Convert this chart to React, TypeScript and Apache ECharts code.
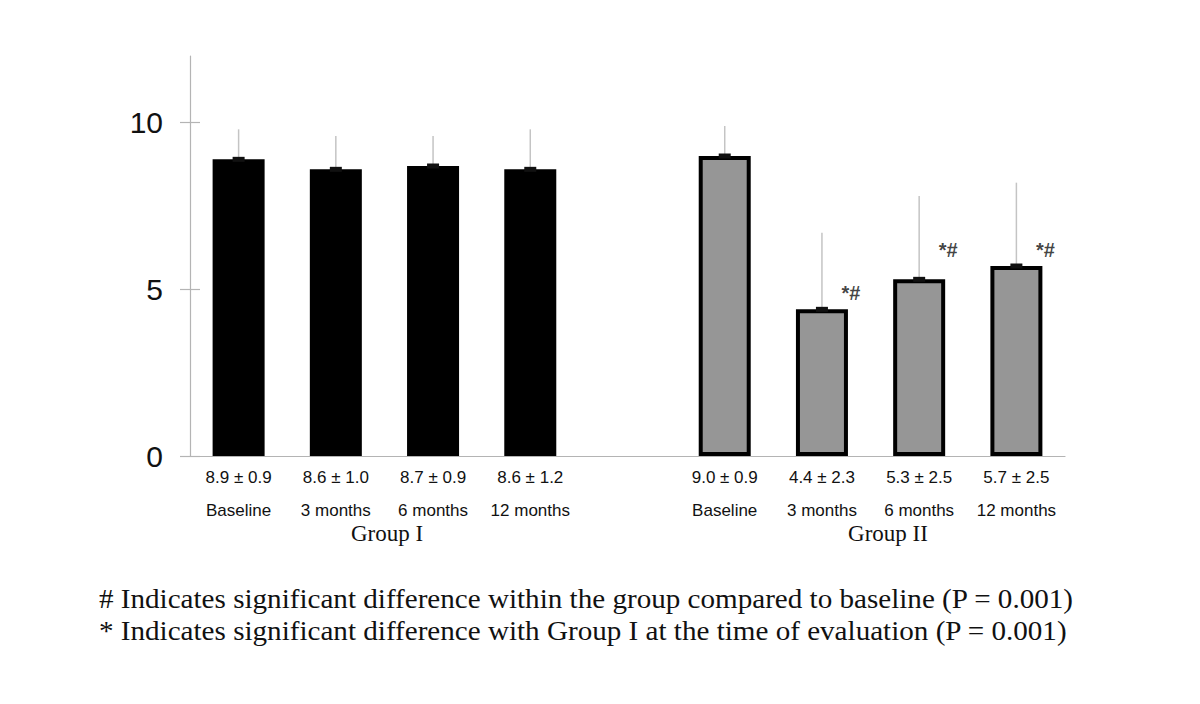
import React, { useEffect, useRef } from "react";
import * as echarts from "echarts";

const categories = ["Baseline", "3 months", "6 months", "12 months", "", "Baseline", "3 months", "6 months", "12 months"];
const groupIMeans = [8.9, 8.6, 8.7, 8.6];
const groupISD = [0.9, 1.0, 0.9, 1.2];
const groupIIMeans = [9.0, 4.4, 5.3, 5.7];
const groupIISD = [0.9, 2.3, 2.5, 2.5];
const statLabels = ["8.9 ± 0.9", "8.6 ± 1.0", "8.7 ± 0.9", "8.6 ± 1.2", "", "9.0 ± 0.9", "4.4 ± 2.3", "5.3 ± 2.5", "5.7 ± 2.5"];
// significance marks: [category index, y value where the mark sits]
const marks: [number, number][] = [[6, 4.88], [7, 6.17], [8, 6.17]];
const groupNames = ["Group I", "Group II"];
const footnotes = [
  "# Indicates significant difference within the group compared to baseline (P = 0.001)",
  "* Indicates significant difference with Group I at the time of evaluation (P = 0.001)",
];
const yTicks = [0, 5, 10];

export default function App() {
  const ref = useRef<HTMLDivElement>(null);
  useEffect(() => {
    if (!ref.current) return;
    const chart = echarts.init(ref.current, undefined, { renderer: "svg" });
    const g1Data = categories.map((_, i) => (i < 4 ? groupIMeans[i] : "-"));
    const g2Data = categories.map((_, i) => (i > 4 ? groupIIMeans[i - 5] : "-"));
    const errData: number[][] = [];
    groupIMeans.forEach((m, i) => errData.push([i, m, m + groupISD[i]]));
    groupIIMeans.forEach((m, i) => errData.push([i + 5, m, m + groupIISD[i]]));
    const sans = "'Liberation Sans', Arial, sans-serif";
    const serif = "'Liberation Serif', 'Times New Roman', serif";
    chart.setOption({
      animation: false,
      backgroundColor: "#ffffff",
      grid: { left: 190, right: 135, top: 56, bottom: 248 },
      xAxis: {
        type: "category",
        data: categories,
        axisLine: { lineStyle: { color: "#b4b4b4", width: 1.2 } },
        axisTick: { show: false },
        axisLabel: {
          interval: 0,
          margin: 5,
          formatter: (v: string, i: number) => (v ? `{v|${statLabels[i]}}\n{c|${v}}` : ""),
          rich: {
            v: { fontSize: 17, lineHeight: 33, fontFamily: sans, color: "#111" },
            c: { fontSize: 17, lineHeight: 33, fontFamily: sans, color: "#111" },
          },
        },
      },
      yAxis: [
        {
          type: "value",
          min: 0,
          max: 12,
          interval: 5,
          splitLine: { show: false },
          axisLine: { show: true, lineStyle: { color: "#b4b4b4", width: 1.2 } },
          axisTick: { show: true, length: 10, customValues: yTicks, lineStyle: { color: "#b4b4b4", width: 1.2 } },
          axisLabel: { customValues: yTicks, fontSize: 30, fontFamily: sans, color: "#111", margin: 27 },
        },
        {
          type: "value",
          position: "left",
          min: 0,
          max: 12,
          interval: 5,
          splitLine: { show: false },
          axisLine: { show: false },
          axisTick: { show: true, inside: true, length: 10, customValues: yTicks, lineStyle: { color: "#b4b4b4", width: 1.2 } },
          axisLabel: { show: false },
        },
      ],
      series: [
        {
          type: "bar",
          data: g1Data,
          barWidth: 52,
          barGap: "-100%",
          itemStyle: { color: "#000", borderColor: "#000", borderWidth: 4 },
        },
        {
          type: "bar",
          data: g2Data,
          barWidth: 52,
          itemStyle: { color: "#969696", borderColor: "#000", borderWidth: 4 },
        },
        {
          type: "custom",
          data: errData,
          encode: { x: 0, y: [1, 2] },
          z: 5,
          renderItem: (params: any, api: any) => {
            const x = api.value(0);
            const p0 = api.coord([x, api.value(1)]);
            const p1 = api.coord([x, api.value(2)]);
            return {
              type: "group",
              children: [
                { type: "line", shape: { x1: p0[0], y1: p0[1], x2: p1[0], y2: p1[1] }, style: { stroke: "#c4c4c4", lineWidth: 1.5 } },
                { type: "rect", shape: { x: p0[0] - 6, y: p0[1] - 2.5, width: 12, height: 5 }, style: { fill: "#111" } },
              ],
            };
          },
        },
        {
          type: "scatter",
          data: marks,
          symbolSize: 0,
          z: 6,
          label: {
            show: true,
            position: "inside",
            offset: [29, 0],
            formatter: "*#",
            fontSize: 20,
            fontWeight: "bold",
            fontFamily: sans,
            color: "#111",
          },
        },
      ],
      graphic: [
        { type: "text", x: 387, y: 533, style: { text: groupNames[0], font: `23px ${serif}`, fill: "#111", textAlign: "center", textVerticalAlign: "middle" } },
        { type: "text", x: 888, y: 533, style: { text: groupNames[1], font: `23px ${serif}`, fill: "#111", textAlign: "center", textVerticalAlign: "middle" } },
        { type: "text", x: 99, y: 599, scaleX: 1.04, style: { text: footnotes[0], font: `28px ${serif}`, fill: "#111", textAlign: "left", textVerticalAlign: "middle" } },
        { type: "text", x: 99, y: 631, scaleX: 1.04, style: { text: footnotes[1], font: `28px ${serif}`, fill: "#111", textAlign: "left", textVerticalAlign: "middle" } },
      ],
    });
    return () => chart.dispose();
  }, []);
  return <div ref={ref} style={{ position: "fixed", left: 0, top: 0, width: 1200, height: 704 }} />;
}
